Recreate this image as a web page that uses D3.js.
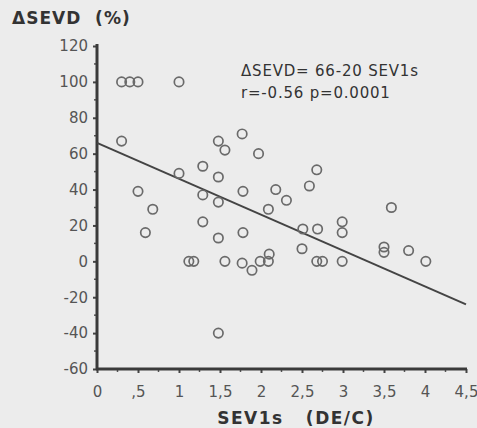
<!DOCTYPE html>
<html>
<head>
<meta charset="utf-8">
<script src="https://cdn.jsdelivr.net/npm/d3@7"></script>
<style>
  body { margin: 0; background: #ececec; }
  svg { display: block; }
</style>
</head>
<body>
<div id="chart"></div>
<script>
// dados (SEV1s vs ΔSEVD)
const sev1s = [0.30, 0.40, 0.50, 1.00, 0.30, 1.48, 1.56, 1.00, 1.29, 1.48, 0.50, 1.29,
    0.68, 0.59, 1.29, 1.48, 1.12, 1.18, 1.56, 1.48, 1.48, 1.77, 1.97, 2.68, 2.59, 2.18,
    1.78, 2.31, 2.09, 2.51, 2.69, 2.99, 2.99, 1.78, 2.50, 1.77, 1.89, 1.99, 2.10, 2.09,
    2.68, 2.75, 2.99, 3.59, 3.50, 3.50, 3.80, 4.01];
const dSevd = [100, 100, 100, 100, 67, 67, 62, 49, 53, 47, 39, 37,
    29, 16, 22, 13, 0, 0, 0, -40, 33, 71, 60, 51, 42, 40,
    39, 34, 29, 18, 18, 22, 16, 16, 7, -1, -5, 0, 4, 0,
    0, 0, 0, 30, 8, 5, 6, 0];

// recta de regressão
const fitIntercept = 66;
const fitSlope = -20;
const fitText = ["\u0394SEVD= 66-20 SEV1s", "r=-0.56 p=0.0001"];

const xTicks = [0, 0.5, 1, 1.5, 2, 2.5, 3, 3.5, 4, 4.5];
const xTickLabels = ["0", ",5", "1", "1,5", "2", "2,5", "3", "3,5", "4", "4,5"];
const yTicks = [120, 100, 80, 60, 40, 20, 0, -20, -40, -60];

const width = 477, height = 428;
const font = "'DejaVu Sans', sans-serif";

const svg = d3.select("#chart").append("svg")
    .attr("width", width)
    .attr("height", height);

svg.append("rect").attr("width", width).attr("height", height).attr("fill", "#ececec");

const x = d3.scaleLinear().domain([0, 4.5]).range([97, 466]);
const y = d3.scaleLinear().domain([-60, 120]).range([369, 46]);

// eixo Y
const yAxis = svg.append("g")
    .attr("transform", `translate(${x(0)},0)`)
    .call(d3.axisLeft(y).tickValues(yTicks).tickFormat(d => String(d)).tickSize(4).tickPadding(5));
yAxis.select(".domain").remove();
yAxis.selectAll(".tick line").attr("stroke", "#444").attr("stroke-width", 2);
yAxis.selectAll(".tick text")
    .attr("fill", "#555")
    .style("font-family", font)
    .style("font-size", "15px");

// ticks menores do Y (a cada 10)
svg.append("g").selectAll("line")
    .data(d3.range(-50, 120, 20))
    .enter().append("line")
    .attr("x1", x(0) - 3).attr("x2", x(0))
    .attr("y1", d => y(d)).attr("y2", d => y(d))
    .attr("stroke", "#555").attr("stroke-width", 1.5);

// eixo X
const xAxis = svg.append("g")
    .attr("transform", `translate(0,${y(-60)})`)
    .call(d3.axisBottom(x).tickValues(xTicks).tickFormat((d, i) => xTickLabels[i]).tickSize(4).tickPadding(13));
xAxis.select(".domain").remove();
xAxis.selectAll(".tick line").attr("stroke", "#444").attr("stroke-width", 2);
xAxis.selectAll(".tick text")
    .attr("fill", "#555")
    .style("font-family", font)
    .style("font-size", "15px");

svg.append("g").selectAll("line")
    .data(d3.range(0.25, 4.5, 0.5))
    .enter().append("line")
    .attr("x1", d => x(d)).attr("x2", d => x(d))
    .attr("y1", y(-60)).attr("y2", y(-60) + 3)
    .attr("stroke", "#555").attr("stroke-width", 1.5);

// linhas dos eixos
svg.append("line")
    .attr("x1", x(0)).attr("x2", x(0))
    .attr("y1", y(120) - 2).attr("y2", y(-60) + 1)
    .attr("stroke", "#3a3a3a").attr("stroke-width", 3);
svg.append("line")
    .attr("x1", x(0) - 1).attr("x2", x(4.5) + 1)
    .attr("y1", y(-60)).attr("y2", y(-60))
    .attr("stroke", "#3a3a3a").attr("stroke-width", 3);

// recta
svg.append("line")
    .attr("x1", x(0)).attr("y1", y(fitIntercept))
    .attr("x2", x(4.5)).attr("y2", y(fitIntercept + fitSlope * 4.5))
    .attr("stroke", "#444").attr("stroke-width", 2);

// pontos
svg.selectAll(".ponto")
    .data(sev1s.map((v, i) => ({ x: v, y: dSevd[i] })))
    .enter().append("circle")
    .attr("class", "ponto")
    .attr("cx", d => x(d.x))
    .attr("cy", d => y(d.y))
    .attr("r", 4.7)
    .attr("fill", "none")
    .attr("stroke", "#6a6a6a")
    .attr("stroke-width", 1.7);

// equação
svg.selectAll(".fit")
    .data(fitText)
    .enter().append("text")
    .attr("class", "fit")
    .attr("x", 241)
    .attr("y", (d, i) => 76 + i * 22)
    .attr("fill", "#333")
    .style("font-family", font)
    .style("font-size", "15px")
    .style("letter-spacing", "0.8px")
    .text(d => d);

// títulos
svg.append("text")
    .attr("x", 12).attr("y", 24)
    .attr("fill", "#333")
    .style("font-family", font)
    .style("font-size", "17px")
    .style("font-weight", "bold")
    .style("letter-spacing", "1px")
    .attr("xml:space", "preserve")
    .text("\u0394SEVD  (%)");

svg.append("text")
    .attr("x", 296).attr("y", 424)
    .attr("text-anchor", "middle")
    .attr("fill", "#333")
    .style("font-family", font)
    .style("font-size", "17px")
    .style("font-weight", "bold")
    .style("letter-spacing", "1.5px")
    .attr("xml:space", "preserve")
    .text("SEV1s   (DE/C)");
</script>
</body>
</html>
